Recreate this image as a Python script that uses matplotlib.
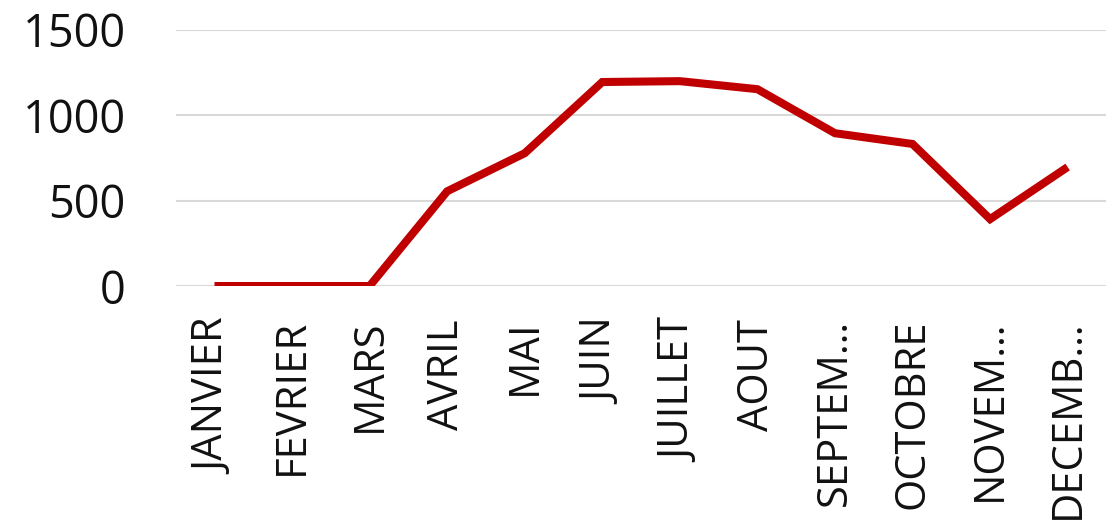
import matplotlib
matplotlib.use('Agg')
import matplotlib.pyplot as plt

mois = ['JANVIER', 'FEVRIER', 'MARS', 'AVRIL', 'MAI', 'JUIN', 'JUILLET',
        'AOUT', 'SEPTEM…', 'OCTOBRE', 'NOVEM…', 'DECEMB…']
valeurs = [0, 0, 0, 555, 778, 1195, 1200, 1153, 895, 832, 392, 697]
y_ticks = [0, 500, 1000, 1500]

plt.rcParams['font.family'] = ['Open Sans', 'DejaVu Sans']

fig = plt.figure(figsize=(11.12, 5.28), dpi=100)
ax = fig.add_axes([0.158, 0.4583, 0.837, 0.485])

x = list(range(len(mois)))
ax.plot(x, valeurs, color='#C00000', linewidth=5.8, solid_joinstyle='miter',
        solid_capstyle='butt', zorder=3)

ax.set_xlim(-0.5, len(mois) - 0.5)
ax.set_ylim(0, 1500)
ax.set_yticks(y_ticks)
ax.set_yticklabels([str(v) for v in y_ticks], fontsize=32.5, color='#111111')
ax.set_xticks(x)
ax.set_xticklabels(mois, rotation=90, fontsize=30, color='#111111', va='top', ha='center')
ax.tick_params(axis='y', length=0, pad=36)
ax.tick_params(axis='x', length=0, pad=24)

ax.grid(axis='y', color='#D9D9D9', linewidth=1.5, zorder=0)
for s in ax.spines.values():
    s.set_visible(False)
ax.axhline(0, color='#D9D9D9', linewidth=1.5, zorder=1)

fig.savefig('out.png', dpi=100)
